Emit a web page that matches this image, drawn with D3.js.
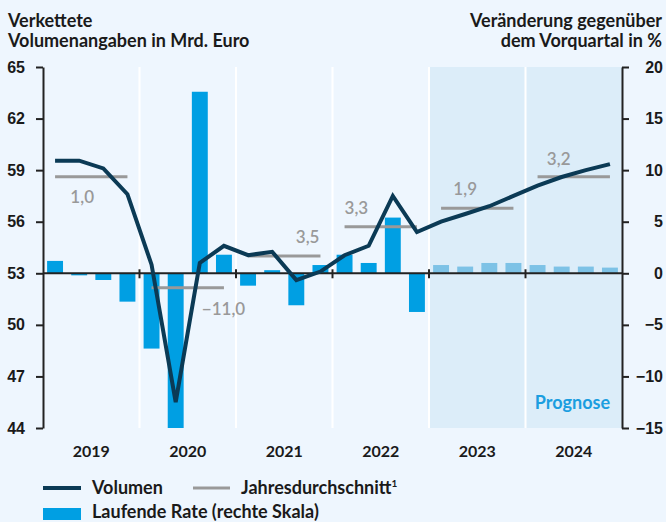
<!DOCTYPE html>
<html>
<head>
<meta charset="utf-8">
<script src="https://d3js.org/d3.v7.min.js"></script>
<style>
  html, body { margin: 0; padding: 0; background: #eef6fe; }
  svg { display: block; font-family: Lato, "Noto Sans", sans-serif; }
  .tick-label { font-size: 16px; font-weight: 700; fill: #1a1a1a; }
  .title { font-size: 18px; font-weight: 700; fill: #1a1a1a; }
</style>
</head>
<body>
<div id="chart"></div>
<script>
const years = ["2019", "2020", "2021", "2022", "2023", "2024"];
const quarters = years.flatMap(y => ["Q1", "Q2", "Q3", "Q4"].map(q => y + q));

// Verkettete Volumenangaben, Mrd. Euro (linke Skala)
const volumen = [59.55, 59.55, 59.1, 57.6, 53.5, 45.5, 53.6, 54.6,
                 54.05, 54.25, 52.6, 53.1, 54.05, 54.6, 57.5, 55.4,
                 56.0, 56.45, 56.9, 57.5, 58.1, 58.6, 59.0, 59.35];
// Laufende Rate in % (rechte Skala)
const rate = [1.2, -0.2, -0.65, -2.75, -7.3, -15.0, 17.6, 1.8,
              -1.2, 0.3, -3.1, 0.8, 1.8, 1.0, 5.4, -3.75,
              0.8, 0.65, 1.0, 1.0, 0.8, 0.65, 0.65, 0.55];
// Jahresdurchschnitt (Volumen) und Veränderungsrate
const jahresMittel = [58.62, 52.16, 54.0, 55.71, 56.78, 58.62];
const jahresRate = ["1,0", "\u221211,0", "3,5", "3,3", "1,9", "3,2"];
const prognoseJahre = ["2023", "2024"];

const leftTicks = [44, 47, 50, 53, 56, 59, 62, 65];
const rightTicks = [-15, -10, -5, 0, 5, 10, 15, 20];

const W = 666, H = 522;
const margin = { top: 67, right: 44, bottom: 94, left: 43 };
const x0 = margin.left, x1 = W - margin.right;
const y0 = H - margin.bottom, y1 = margin.top;

const svg = d3.select("#chart").append("svg")
  .attr("width", W).attr("height", H);

svg.append("rect").attr("width", W).attr("height", H).attr("fill", "#eef6fe");

const xYear = d3.scaleBand().domain(years).range([x0, x1]);
const xQ = d3.scaleBand().domain(quarters).range([x0, x1])
  .paddingInner(0.34).paddingOuter(0.17);
const qc = q => xQ(q) + xQ.bandwidth() / 2;

const yL = d3.scaleLinear().domain([44, 65]).range([y0, y1]);
const yR = d3.scaleLinear().domain([-15, 20]).range([y0, y1]);

// Prognose-Hintergrund
svg.append("g").selectAll("rect")
  .data(prognoseJahre).join("rect")
  .attr("x", d => xYear(d)).attr("y", y1)
  .attr("width", xYear.bandwidth()).attr("height", y0 - y1)
  .attr("fill", "#dcedf9");

// weiße Jahrestrenner
svg.append("g").selectAll("line")
  .data(years.slice(1)).join("line")
  .attr("x1", d => xYear(d)).attr("x2", d => xYear(d))
  .attr("y1", y1).attr("y2", y0)
  .attr("stroke", "#fff").attr("stroke-width", 2);

svg.append("text")
  .attr("x", 610).attr("y", 409)
  .attr("text-anchor", "end")
  .attr("font-size", 18).attr("font-weight", 700)
  .attr("fill", "#1b9ee0")
  .text("Prognose");

// Balken
svg.append("g").selectAll("rect")
  .data(quarters).join("rect")
  .attr("x", d => xQ(d))
  .attr("width", xQ.bandwidth())
  .attr("y", (d, i) => yR(Math.max(0, rate[i])))
  .attr("height", (d, i) => Math.abs(yR(rate[i]) - yR(0)))
  .attr("fill", d => prognoseJahre.includes(d.slice(0, 4)) ? "#7dc2e6" : "#009fe3");

// Nulllinie mit Jahresmarken
svg.append("line")
  .attr("x1", x0).attr("x2", x1)
  .attr("y1", yR(0)).attr("y2", yR(0))
  .attr("stroke", "#222").attr("stroke-width", 2);
svg.append("g").selectAll("line")
  .data(years.slice(1)).join("line")
  .attr("x1", d => xYear(d)).attr("x2", d => xYear(d))
  .attr("y1", yR(0) - 4).attr("y2", yR(0) + 5)
  .attr("stroke", "#222").attr("stroke-width", 2);

// Jahresdurchschnitt
const labelPlace = [
  { q: 1, anchor: "middle", dx: 3, dy: 26 },
  { q: 2, anchor: "start", dx: 2, dy: 27 },
  { q: 3, anchor: "end", dx: -1, dy: -13 },
  { q: 0, anchor: "start", dx: 0, dy: -13 },
  { q: 1, anchor: "middle", dx: 0, dy: -13 },
  { q: 1, anchor: "middle", dx: -3, dy: -12 }
];
const avg = svg.append("g");
years.forEach((yr, i) => {
  avg.append("line")
    .attr("x1", qc(yr + "Q1")).attr("x2", qc(yr + "Q4"))
    .attr("y1", yL(jahresMittel[i])).attr("y2", yL(jahresMittel[i]))
    .attr("stroke", "#999").attr("stroke-width", 3);
  const p = labelPlace[i];
  avg.append("text")
    .attr("x", qc(yr + "Q" + (p.q + 1)) + p.dx)
    .attr("y", yL(jahresMittel[i]) + p.dy)
    .attr("text-anchor", p.anchor)
    .attr("font-size", 17).attr("font-weight", 600)
    .attr("fill", "#999")
    .text(jahresRate[i]);
});

// Volumen
svg.append("path")
  .datum(volumen)
  .attr("fill", "none")
  .attr("stroke", "#0b3a55")
  .attr("stroke-width", 4)
  .attr("stroke-linejoin", "miter")
  .attr("d", d3.line().x((d, i) => qc(quarters[i])).y(d => yL(d)));

// Achsen
const axL = svg.append("g").attr("transform", `translate(${x0},0)`)
  .call(d3.axisLeft(yL).tickValues(leftTicks).tickSize(7).tickPadding(11).tickSizeOuter(0));
const axR = svg.append("g").attr("transform", `translate(${x1},0)`)
  .call(d3.axisRight(yR).tickValues(rightTicks).tickSize(7).tickSizeOuter(0)
    .tickFormat(d => d < 0 ? "\u2212" + Math.abs(d) : d));
[axL, axR].forEach(ax => {
  ax.select(".domain").attr("stroke", "#222").attr("stroke-width", 2);
  ax.selectAll(".tick line").attr("stroke", "#222").attr("stroke-width", 2);
  ax.selectAll(".tick text").attr("class", "tick-label").attr("font-size", null).attr("font-family", null);
});
axR.selectAll(".tick text").attr("text-anchor", "end").attr("x", 41);

// Jahreslabels
svg.append("g").selectAll("text")
  .data(years).join("text")
  .attr("class", "tick-label")
  .attr("x", d => xYear(d) + xYear.bandwidth() / 2)
  .attr("y", 457)
  .attr("text-anchor", "middle")
  .text(d => d);

// Titel
svg.append("text").attr("class", "title").attr("x", 8).attr("y", 27).text("Verkettete");
svg.append("text").attr("class", "title").attr("x", 8).attr("y", 47).text("Volumenangaben in Mrd. Euro");
svg.append("text").attr("class", "title").attr("x", 662).attr("y", 27)
  .attr("text-anchor", "end").text("Veränderung gegenüber");
svg.append("text").attr("class", "title").attr("x", 662).attr("y", 47)
  .attr("text-anchor", "end").text("dem Vorquartal in %");

// Legende
const lg = svg.append("g").attr("class", "title");
lg.append("line").attr("x1", 43).attr("x2", 81).attr("y1", 488).attr("y2", 488)
  .attr("stroke", "#0b3a55").attr("stroke-width", 4);
lg.append("text").attr("x", 92).attr("y", 494).text("Volumen");
lg.append("line").attr("x1", 193).attr("x2", 230).attr("y1", 488).attr("y2", 488)
  .attr("stroke", "#999").attr("stroke-width", 3);
const jt = lg.append("text").attr("x", 241).attr("y", 494).text("Jahresdurchschnitt");
jt.append("tspan").attr("dy", -7).attr("font-size", 10).text("1");
lg.append("rect").attr("x", 43).attr("y", 508).attr("width", 38).attr("height", 12)
  .attr("fill", "#009fe3");
lg.append("text").attr("x", 92).attr("y", 518).text("Laufende Rate (rechte Skala)");
</script>
</body>
</html>
